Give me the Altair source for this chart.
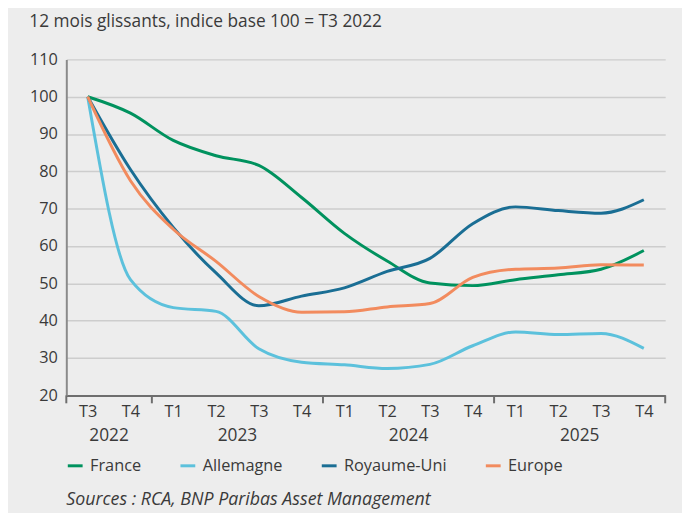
import altair as alt
import pandas as pd

# ---- data ----
quarters = ["T3", "T4", "T1", "T2", "T3", "T4", "T1", "T2", "T3", "T4", "T1", "T2", "T3", "T4"]
years = ["2022", "2023", "2024", "2025"]
year_centers = [0.5, 3.5, 7.5, 11.5]
year_bounds = [-0.5, 1.5, 5.5, 9.5, 13.5]

series_names = ["France", "Allemagne", "Royaume-Uni", "Europe"]
series_colors = ["#00925e", "#5cc1dc", "#1a6e94", "#f28b5e"]

france = [100, 95.6, 88.3, 84.2, 81.6, 73.0, 63.4, 56.0, 50.1, 49.4, 51.0, 52.3, 53.8, 58.8]
allemagne = [100, 51.0, 43.5, 42.5, 32.5, 28.9, 28.2, 27.2, 28.3, 33.3, 37.0, 36.3, 36.6, 32.6]
royaume_uni = [100, 80.5, 65.0, 52.8, 44.0, 46.6, 48.8, 53.2, 56.7, 66.0, 70.5, 69.5, 68.8, 72.4]
europe = [100, 77.5, 64.5, 55.9, 46.5, 42.3, 42.4, 43.7, 44.6, 51.6, 53.8, 54.1, 55.0, 54.9]

title_text = "12 mois glissants, indice base 100 = T3 2022"
source_text = "Sources : RCA, BNP Paribas Asset Management"

# ---- build tables ----
rows = []
for name, vals in zip(series_names, [france, allemagne, royaume_uni, europe]):
    for i, v in enumerate(vals):
        rows.append({"serie": name, "i": i, "v": v})
df = pd.DataFrame(rows)
df_years = pd.DataFrame({"x": year_centers, "label": years})
df_bounds = pd.DataFrame({"b": year_bounds})

W, H = 606, 340
FONT = "Open Sans"
TXT = "#3a3a3a"

label_expr = "[" + ",".join("'%s'" % q for q in quarters) + "][datum.value]"

xscale = alt.Scale(domain=[-0.5, 13.5], nice=False, zero=False)
yscale = alt.Scale(domain=[20, 110], nice=False, zero=False)

lines = alt.Chart(df).mark_line(strokeWidth=3, interpolate="monotone").encode(
    x=alt.X("i:Q", scale=xscale, title=None,
            axis=alt.Axis(values=list(range(len(quarters))), labelExpr=label_expr,
                          ticks=False, grid=False, domainColor="#6e6e6e", domainWidth=2,
                          labelPadding=8, labelFontSize=16.5, labelColor=TXT, labelFont=FONT)),
    y=alt.Y("v:Q", scale=yscale, title=None,
            axis=alt.Axis(values=list(range(20, 111, 10)), ticks=False, grid=True,
                          gridColor="#cdcdcd", gridWidth=1.5, domainColor="#8a8a8a", domainWidth=2,
                          labelPadding=9, labelFontSize=16.5, labelColor=TXT, labelFont=FONT)),
    color=alt.Color("serie:N", scale=alt.Scale(domain=series_names, range=series_colors),
                    legend=alt.Legend(title=None, orient="none", legendX=0, legendY=402,
                                      direction="horizontal", symbolType="stroke",
                                      symbolSize=225, symbolStrokeWidth=3, labelFontSize=16.5,
                                      labelFont=FONT, labelColor=TXT, columnPadding=33,
                                      labelOffset=6, padding=0)),
    order="i:Q",
)

ticks = alt.Chart(df_bounds).mark_rule(color="#6e6e6e", strokeWidth=2).encode(
    x=alt.X("b:Q", scale=xscale),
    y=alt.value(H), y2=alt.value(H + 8),
)

year_text = alt.Chart(df_years).mark_text(fontSize=17.5, font=FONT, color=TXT, baseline="alphabetic").encode(
    x=alt.X("x:Q", scale=xscale),
    y=alt.value(386.5),
    text="label:N",
)

title = alt.Chart(pd.DataFrame({"t": [title_text]})).mark_text(
    fontSize=17.5, font=FONT, color=TXT, align="left", baseline="alphabetic"
).encode(x=alt.value(-37.5), y=alt.value(-33), text="t:N")

source = alt.Chart(pd.DataFrame({"t": [source_text]})).mark_text(
    fontSize=18, font=FONT, fontStyle="italic", color=TXT, align="left", baseline="alphabetic"
).encode(x=alt.value(0), y=alt.value(451), text="t:N")

chart = alt.layer(lines, ticks, year_text, title, source).properties(
    width=W, height=H,
    autosize=alt.AutoSizeParams(type="none"),
    padding={"left": 59, "top": 49, "right": 17, "bottom": 116},
    background="#ededed",
).configure_view(stroke=None)

chart.save("out.html", embed_options={"renderer": "svg", "actions": False})
